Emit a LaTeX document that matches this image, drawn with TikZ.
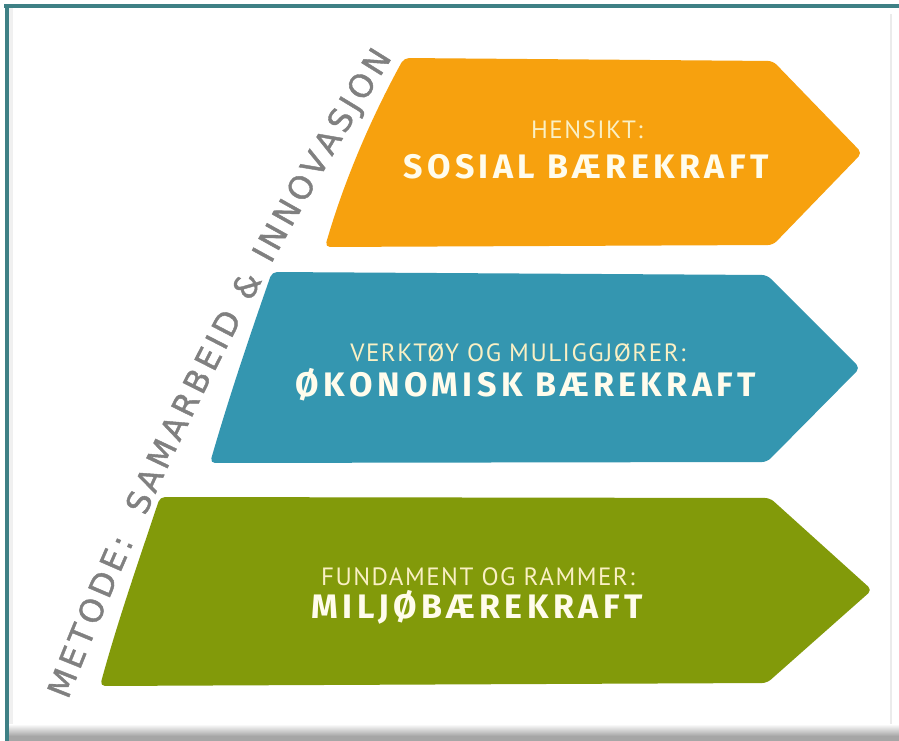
\documentclass[tikz,border=0pt]{standalone}
\usepackage{fontspec}
\setmainfont{Open Sans}
\newfontfamily\labfont[LetterSpace=6]{PT Sans}
\newfontfamily\boldfont[LetterSpace=13]{Fira Sans}
\newfontfamily\arcfont[FakeBold=1.3]{DejaVu Sans}
\usetikzlibrary{decorations.text}
\definecolor{cOrange}{RGB}{247,161,14}
\definecolor{cTeal}{RGB}{52,150,176}
\definecolor{cGreen}{RGB}{130,154,10}
\definecolor{cCream}{RGB}{250,240,196}
\definecolor{cWhite}{RGB}{255,252,236}
\definecolor{cGray}{RGB}{128,128,128}
\definecolor{cFrame}{RGB}{62,128,133}
\tikzset{
  band/.style={rounded corners=5pt, draw=none},
  small/.style={text=cCream, font=\labfont\fontsize{25}{25}\selectfont, inner sep=0pt, anchor=center},
  big/.style={text=cWhite, font=\boldfont\bfseries\fontsize{34}{34}\selectfont, inner sep=0pt, anchor=center},
}
\begin{document}
\begin{tikzpicture}[x=1pt,y=-1pt]
\useasboundingbox (0,0) rectangle (899,741);
\fill[white] (0,0) rectangle (899,741);
% frame
\fill[cFrame] (4,4) rectangle (899,8);
\fill[cFrame] (5,4) rectangle (9,741);
\fill[black!6] (9,8) rectangle (13,741);
\fill[black!8] (890,14) rectangle (892,728);
\shade[top color=white, bottom color=black!35] (9,724) rectangle (899,736);
\fill[black!35] (9,736) rectangle (899,741);
% orange band
\fill[cOrange, band] (325,247) .. controls (344,181) and (371,118) .. (404,58)
  -- (773,61) -- (862,153) -- (773,245) -- cycle;
% teal band
\fill[cTeal, band] (210,463) .. controls (229,397) and (250,335) .. (272,272)
  -- (767,275) -- (860,368) -- (767,462) -- cycle;
% green band
\fill[cGreen, band] (100,686) .. controls (118,620) and (139,560) .. (160,497)
  -- (770,498) -- (872,590) -- (767,683) -- cycle;
% labels
\node[small] (h1) at (587,130) {HENSIKT:};
\node[big] (t1) at (586,167) {SOSIAL BÆREKRAFT};
\node[small] (h2) at (518,353) {VERKTØY OG MULIGGJØRER:};
\node[big] (t2) at (526,385) {ØKONOMISK BÆREKRAFT};
\node[small] (h3) at (478,577) {FUNDAMENT OG RAMMER:};
\node[big] (t3) at (477,607) {MILJØBÆREKRAFT};
% arc text
\coordinate (arcA) at (68,700);
\coordinate (arcB) at (392,58);
\path[decorate, decoration={text along path, text color=cGray,
   text={|\arcfont\fontsize{32}{32}\selectfont|METODE:{\ \ }SAMARBEID {\&} INNOVASJON},
   text align={fit to path}}]
  (arcA) .. controls (156,474) and (264,262) .. (arcB);
\end{tikzpicture}
\end{document}
